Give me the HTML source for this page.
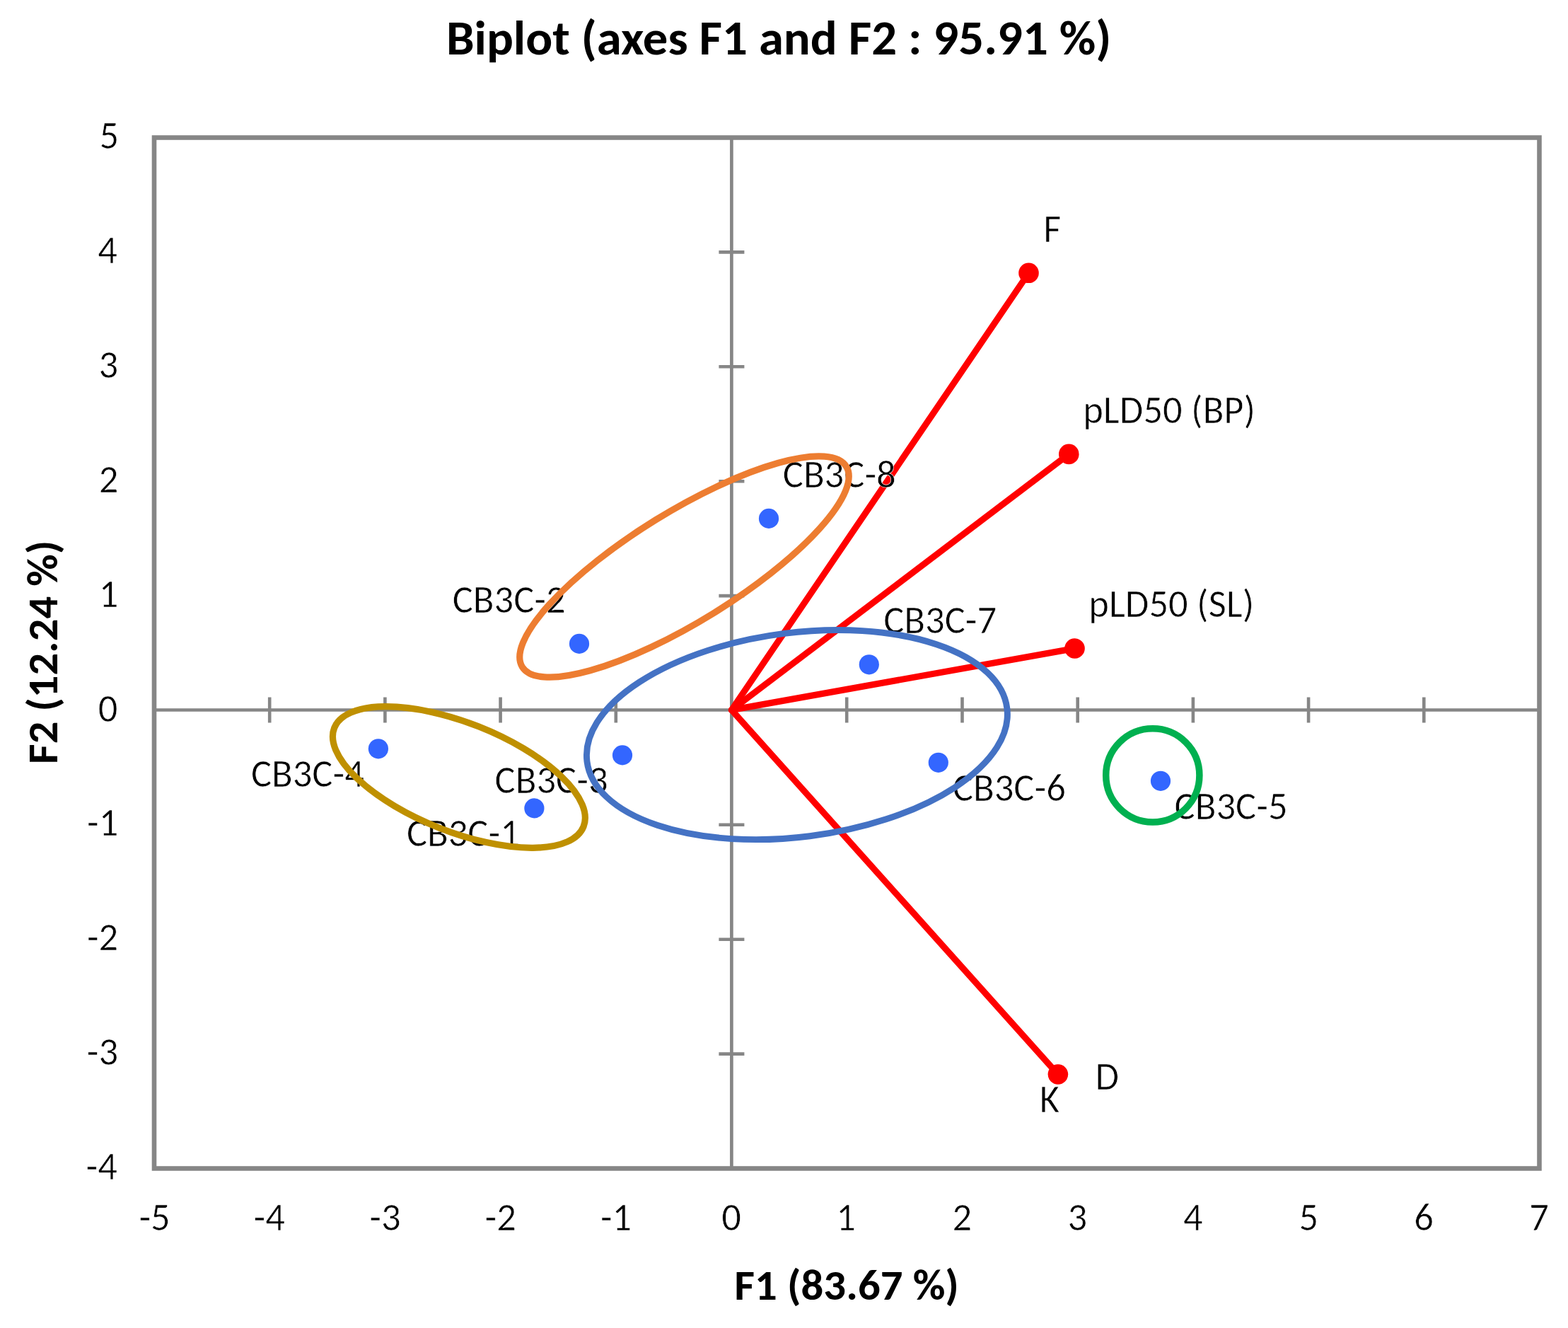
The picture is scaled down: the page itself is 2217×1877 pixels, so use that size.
<!DOCTYPE html>
<html><head><meta charset="utf-8"><title>Biplot (axes F1 and F2 : 95.91 %)</title>
<style>
html,body{margin:0;padding:0;background:#fff;}
body{width:2217px;height:1877px;overflow:hidden;}
svg{display:block;}
text{font-family:Carlito, 'Liberation Sans', sans-serif;fill:#000;stroke:#fff;stroke-width:0.6px;font-size-adjust:0.4775390625;}
text[font-weight="bold"]{font-size-adjust:0.48486328125;stroke:none;}
.r{font-size:54.6px;}
.b{font-weight:bold;}
</style></head><body>
<svg width="2217" height="1877" viewBox="0 0 2217 1877">
<rect width="2217" height="1877" fill="#fff"/>
<text x="630.9" y="77.0" font-size="69.4" font-weight="bold" textLength="940.4" lengthAdjust="spacingAndGlyphs">Biplot (axes F1 and F2 : 95.91 %)</text>
<rect x="218.0" y="194.5" width="1958.5" height="1457.0" fill="none" stroke="#868686" stroke-width="6.6"/>
<line x1="218.0" y1="1003.5" x2="2176.5" y2="1003.5" stroke="#868686" stroke-width="4.7"/>
<line x1="1034.4" y1="194.5" x2="1034.4" y2="1651.5" stroke="#868686" stroke-width="4.7"/>
<path d="M381.2 985.5V1021.5 M544.4 985.5V1021.5 M707.6 985.5V1021.5 M870.8 985.5V1021.5 M1197.2 985.5V1021.5 M1360.5 985.5V1021.5 M1523.7 985.5V1021.5 M1686.9 985.5V1021.5 M1850.1 985.5V1021.5 M2013.3 985.5V1021.5 M1016.4 1489.6H1052.4 M1016.4 1327.7H1052.4 M1016.4 1165.8H1052.4 M1016.4 842.1H1052.4 M1016.4 680.2H1052.4 M1016.4 518.3H1052.4 M1016.4 356.4H1052.4" stroke="#868686" stroke-width="4.6" fill="none"/>
<text x="165.9" y="1667.1" font-size="54.6" text-anchor="end">-4</text>
<text x="167.1" y="1505.2" font-size="54.6" text-anchor="end">-3</text>
<text x="167.3" y="1343.3" font-size="54.6" text-anchor="end">-2</text>
<text x="167.5" y="1181.4" font-size="54.6" text-anchor="end">-1</text>
<text x="166.4" y="1019.5" font-size="54.6" text-anchor="end">0</text>
<text x="167.5" y="857.7" font-size="54.6" text-anchor="end">1</text>
<text x="167.3" y="695.8" font-size="54.6" text-anchor="end">2</text>
<text x="167.1" y="533.9" font-size="54.6" text-anchor="end">3</text>
<text x="165.9" y="372.0" font-size="54.6" text-anchor="end">4</text>
<text x="168.2" y="210.1" font-size="54.6" text-anchor="end">5</text>
<text x="196.4" y="1738.5" font-size="54.6">-5</text>
<text x="358.5" y="1738.5" font-size="54.6">-4</text>
<text x="522.3" y="1738.5" font-size="54.6">-3</text>
<text x="685.6" y="1738.5" font-size="54.6">-2</text>
<text x="848.9" y="1738.5" font-size="54.6">-1</text>
<text x="1020.2" y="1738.5" font-size="54.6">0</text>
<text x="1182.3" y="1738.5" font-size="54.6">1</text>
<text x="1346.6" y="1738.5" font-size="54.6">2</text>
<text x="1509.6" y="1738.5" font-size="54.6">3</text>
<text x="1673.0" y="1738.5" font-size="54.6">4</text>
<text x="1836.6" y="1738.5" font-size="54.6">5</text>
<text x="1999.2" y="1738.5" font-size="54.6">6</text>
<text x="2162.2" y="1738.5" font-size="54.6">7</text>
<text x="1038.3" y="1836.9" font-size="61.5" font-weight="bold" textLength="317.6" lengthAdjust="spacingAndGlyphs">F1 (83.67 %)</text>
<text transform="translate(81.2 1076.7) rotate(-90)" x="-3.3" y="0" font-size="61.5" font-weight="bold" textLength="316.1" lengthAdjust="spacingAndGlyphs">F2 (12.24 %)</text>
<g stroke="#FF0000" stroke-width="9" stroke-linecap="round" fill="none">
<line x1="1034.4" y1="1003.5" x2="1454.5" y2="385.8"/>
<line x1="1034.4" y1="1003.5" x2="1511.3" y2="641.9"/>
<line x1="1034.4" y1="1003.5" x2="1519.5" y2="916.5"/>
<line x1="1034.4" y1="1003.5" x2="1495.9" y2="1518.5"/>
</g><g fill="#FF0000">
<circle cx="1454.5" cy="385.8" r="14.3"/>
<circle cx="1511.3" cy="641.9" r="14.3"/>
<circle cx="1519.5" cy="916.5" r="14.3"/>
<circle cx="1495.9" cy="1518.5" r="14.3"/>
</g>
<g fill="#3366FF">
<circle cx="1087" cy="732.9" r="14.1"/>
<circle cx="819" cy="909.9" r="14.1"/>
<circle cx="1228.8" cy="939.3" r="14.1"/>
<circle cx="534.9" cy="1058.3" r="14.1"/>
<circle cx="880" cy="1067.4" r="14.1"/>
<circle cx="755.4" cy="1142.4" r="14.1"/>
<circle cx="1326.8" cy="1077.8" r="14.1"/>
<circle cx="1641" cy="1103.8" r="14.1"/>
</g>
<text x="1106.8" y="689.1" font-size="54.6" textLength="160.0" lengthAdjust="spacingAndGlyphs">CB3C-8</text>
<text x="639.7" y="865.9" font-size="54.6" textLength="160.0" lengthAdjust="spacingAndGlyphs">CB3C-2</text>
<text x="1249.2" y="894.9" font-size="54.6" textLength="160.0" lengthAdjust="spacingAndGlyphs">CB3C-7</text>
<text x="354.9" y="1112.1" font-size="54.6" textLength="160.0" lengthAdjust="spacingAndGlyphs">CB3C-4</text>
<text x="699.6" y="1121.0" font-size="54.6" textLength="160.0" lengthAdjust="spacingAndGlyphs">CB3C-3</text>
<text x="1346.9" y="1132.2" font-size="54.6" textLength="160.0" lengthAdjust="spacingAndGlyphs">CB3C-6</text>
<text x="574.9" y="1195.6" font-size="54.6" textLength="160.0" lengthAdjust="spacingAndGlyphs">CB3C-1</text>
<text x="1660.6" y="1157.5" font-size="54.6" textLength="160.0" lengthAdjust="spacingAndGlyphs">CB3C-5</text>
<text x="1475.3" y="342.0" font-size="54.6" textLength="25.1" lengthAdjust="spacingAndGlyphs">F</text>
<text x="1531.2" y="598.0" font-size="54.6" textLength="243.9" lengthAdjust="spacingAndGlyphs">pLD50 (BP)</text>
<text x="1539.2" y="872.2" font-size="54.6" textLength="234.1" lengthAdjust="spacingAndGlyphs">pLD50 (SL)</text>
<text x="1548.4" y="1539.9" font-size="54.6" textLength="33.6" lengthAdjust="spacingAndGlyphs">D</text>
<text x="1469.7" y="1571.7" font-size="54.6" textLength="28.4" lengthAdjust="spacingAndGlyphs">K</text>
<g fill="none" stroke-width="9.2">
<ellipse cx="967.5" cy="801.05" rx="269.3" ry="77.6" transform="rotate(-31.7 967.5 801.05)" stroke="#ED7D31"/>
<ellipse cx="648.9" cy="1098.5" rx="189.5" ry="76.8" transform="rotate(21.6 648.9 1098.5)" stroke="#BF9000"/>
<ellipse cx="1126.9" cy="1038.6" rx="299.3" ry="144.3" transform="rotate(-7.24 1126.9 1038.6)" stroke="#4472C4" stroke-width="8.9"/>
<ellipse cx="1629.8" cy="1095.8" rx="66.1" ry="66.1" stroke="#00B050" stroke-width="9.5"/>
</g>
</svg></body></html>
